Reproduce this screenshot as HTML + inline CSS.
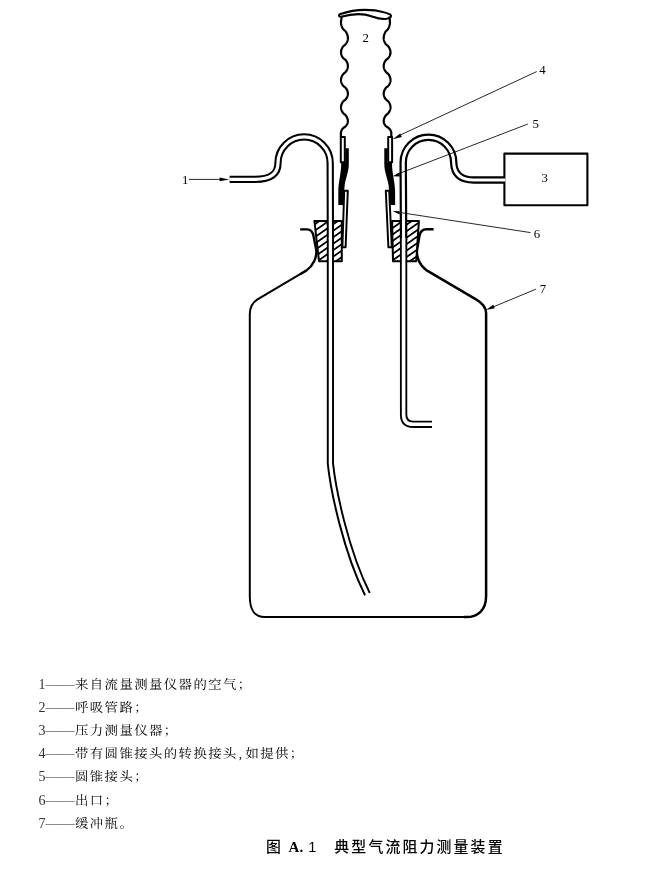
<!DOCTYPE html>
<html lang="zh-CN"><head><meta charset="utf-8"><title>图 A.1 典型气流阻力测量装置</title>
<style>
html,body{margin:0;padding:0;background:#fff;}
body{width:670px;height:869px;position:relative;overflow:hidden;}
svg,.lg,.cap{will-change:transform;-webkit-font-smoothing:antialiased;}
.lg{position:absolute;left:0;width:670px;height:24px;line-height:24px;white-space:nowrap;font-family:"Liberation Serif","Noto Serif CJK SC",serif;font-size:13.6px;font-weight:400;color:#000;}
.lg span{position:absolute;top:0}
.lg .n{left:38.4px;top:0.3px;color:#333;font-size:14px;font-weight:400}
.lg .d{left:45.5px;font-size:14.5px;top:-1.5px;color:#666;font-weight:400}
.lg .t{left:75.2px;font-size:12.5px;letter-spacing:1.33px;transform:scaleX(1.07);transform-origin:0 50%;top:0.4px}
.lg i{font-style:normal;letter-spacing:3px;margin-left:1px}
.cap{position:absolute;left:0;top:835.3px;width:670px;height:24px;line-height:24px;white-space:nowrap;font-family:"Liberation Sans","Noto Sans CJK SC",sans-serif;font-weight:500;font-size:14.9px;color:#000;}
.cap span{position:absolute;top:0}
.cap .a{left:265.9px}
.cap .b{left:288.6px;font-family:"Liberation Serif",serif;font-weight:700;font-size:15px}
.cap .c{left:308.2px;font-weight:400;font-size:14.5px}
.cap .e{left:334.3px;letter-spacing:2.15px}
</style></head><body>

<svg width="670" height="869" viewBox="0 0 670 869" style="position:absolute;left:0;top:0">
<defs>
<pattern id="hatch" patternUnits="userSpaceOnUse" width="5.3" height="5.3" patternTransform="rotate(-35) translate(0,1.2)">
<rect width="5.3" height="5.3" fill="#fff"/>
<line x1="0" y1="2.65" x2="5.3" y2="2.65" stroke="#000" stroke-width="1.8"/>
</pattern>
</defs>
<g fill="none" stroke="#000" stroke-linecap="butt" stroke-linejoin="round">
<!-- bottle -->
<path d="M306.5,270.4 L257.5,299.4 Q250,304 249.8,314 V596 C249.8,610 254,617 265,617 H468" stroke-width="2"/>
<path d="M300.2,229.3 H307 Q312.3,229.3 313.5,236 L316.2,250 C317,257 313.5,265.5 306.5,270.4 L300,274.2" stroke-width="2.35"/>
<path d="M464,617.1 H466 C478,617.1 486.1,610 486.1,596 V313 Q486,305 476,299.3 L426.7,270.4 C419.7,265.5 416.2,257 417,250 L419.4,236 Q420.6,229.3 426.5,229.3 H433.6" stroke-width="2.5"/>
<!-- stopper -->
<path d="M314.4,221 H341.8 V261.2 H319 Z" fill="url(#hatch)" stroke-width="2"/>
<path d="M392.1,221 H418.9 L416.2,261.2 H393 Z" fill="url(#hatch)" stroke-width="2"/>
<!-- box 3 -->
<rect x="504.4" y="153.6" width="83" height="51.6" stroke-width="2.1"/>
<!-- pipes -->
<path d="M229.6,179.3 H255 C270,179.3 278,174.5 278,163 A26.1,26.1 0 0 1 330.2,163 L330.4,240" stroke-width="7.3"/>
<path d="M229.4,179.3 H255 C270,179.3 278,174.5 278,163 A26.1,26.1 0 0 1 330.2,163 L330.4,240" stroke="#fff" stroke-width="3.2"/>
<path d="M330.4,239 V463.5 C333.2,490 345.8,551 367.4,594.2" stroke-width="7.2"/>
<path d="M330.4,238 V463.5 C333.2,490 345.8,551 367.8,595" stroke="#fff" stroke-width="3.3"/>
<path d="M403.6,240 L403.2,162.5 A25.25,25.25 0 0 1 453.7,162.5 C454,173.5 460,180 474,180 H504.4" stroke-width="7.5"/>
<path d="M403.6,240 L403.2,162.5 A25.25,25.25 0 0 1 453.7,162.5 C454,173.5 460,180 474,180 H505.4" stroke="#fff" stroke-width="3.1"/>
<path d="M432,424.3 H413 Q403.6,424.3 403.6,414.5 V239" stroke-width="7.3"/>
<path d="M432.4,424.3 H413 Q403.6,424.3 403.6,414.5 V238" stroke="#fff" stroke-width="3.6"/>
<!-- tube 2 -->
<path d="M341.60,16.50 L341.60,16.75 L341.59,17.00 L341.58,17.25 L341.57,17.50 L341.55,17.75 L341.53,18.00 L341.51,18.25 L341.48,18.50 L341.45,18.75 L341.41,19.00 L341.37,19.25 L341.30,19.50 L341.23,19.75 L341.19,20.00 L341.15,20.25 L341.12,20.50 L341.09,20.75 L341.07,21.00 L341.05,21.25 L341.03,21.50 L341.02,21.75 L341.01,22.00 L341.00,22.25 L341.00,22.50 L341.02,23.15 L341.09,23.81 L341.19,24.46 L341.34,25.12 L341.53,25.77 L341.76,26.43 L342.04,27.08 L342.36,27.73 L342.72,28.39 L343.15,29.04 L343.65,29.70 L344.45,30.35 L345.25,31.00 L345.75,31.66 L346.18,32.31 L346.54,32.97 L346.86,33.62 L347.14,34.28 L347.37,34.93 L347.56,35.58 L347.71,36.24 L347.81,36.89 L347.88,37.55 L347.90,38.20 L347.88,38.79 L347.81,39.38 L347.71,39.98 L347.56,40.57 L347.37,41.16 L347.14,41.75 L346.86,42.34 L346.54,42.93 L346.18,43.52 L345.75,44.12 L345.25,44.71 L344.45,45.30 L343.65,45.89 L343.15,46.48 L342.72,47.08 L342.36,47.67 L342.04,48.26 L341.76,48.85 L341.53,49.44 L341.34,50.03 L341.19,50.62 L341.09,51.22 L341.02,51.81 L341.00,52.40 L341.02,52.96 L341.09,53.52 L341.19,54.09 L341.34,54.65 L341.53,55.21 L341.76,55.77 L342.04,56.34 L342.36,56.90 L342.72,57.46 L343.15,58.03 L343.65,58.59 L344.45,59.15 L345.25,59.71 L345.75,60.28 L346.18,60.84 L346.54,61.40 L346.86,61.96 L347.14,62.53 L347.37,63.09 L347.56,63.65 L347.71,64.21 L347.81,64.78 L347.88,65.34 L347.90,65.90 L347.88,66.49 L347.81,67.08 L347.71,67.68 L347.56,68.27 L347.37,68.86 L347.14,69.45 L346.86,70.04 L346.54,70.63 L346.18,71.22 L345.75,71.82 L345.25,72.41 L344.45,73.00 L343.65,73.59 L343.15,74.18 L342.72,74.78 L342.36,75.37 L342.04,75.96 L341.76,76.55 L341.53,77.14 L341.34,77.73 L341.19,78.32 L341.09,78.92 L341.02,79.51 L341.00,80.10 L341.02,80.66 L341.09,81.22 L341.19,81.79 L341.34,82.35 L341.53,82.91 L341.76,83.47 L342.04,84.04 L342.36,84.60 L342.72,85.16 L343.15,85.72 L343.65,86.29 L344.45,86.85 L345.25,87.41 L345.75,87.97 L346.18,88.54 L346.54,89.10 L346.86,89.66 L347.14,90.22 L347.37,90.79 L347.56,91.35 L347.71,91.91 L347.81,92.47 L347.88,93.04 L347.90,93.60 L347.88,94.17 L347.81,94.74 L347.71,95.31 L347.56,95.88 L347.37,96.45 L347.14,97.02 L346.86,97.60 L346.54,98.17 L346.18,98.74 L345.75,99.31 L345.25,99.88 L344.45,100.45 L343.65,101.02 L343.15,101.59 L342.72,102.16 L342.36,102.73 L342.04,103.30 L341.76,103.88 L341.53,104.45 L341.34,105.02 L341.19,105.59 L341.09,106.16 L341.02,106.73 L341.00,107.30 L341.02,107.88 L341.09,108.46 L341.19,109.04 L341.34,109.62 L341.53,110.20 L341.76,110.78 L342.04,111.35 L342.36,111.93 L342.72,112.51 L343.15,113.09 L343.65,113.67 L344.45,114.25 L345.25,114.83 L345.75,115.41 L346.18,115.99 L346.54,116.57 L346.86,117.15 L347.14,117.72 L347.37,118.30 L347.56,118.88 L347.71,119.46 L347.81,120.04 L347.88,120.62 L347.90,121.20 L347.88,121.70 L347.81,122.20 L347.71,122.70 L347.56,123.20 L347.36,123.70 L347.13,124.20 L346.85,124.70 L346.52,125.20 L346.15,125.70 L345.72,126.20 L345.21,126.70 L344.40,127.20 L343.59,127.70 L343.08,128.20 L342.65,128.70 L342.28,129.20 L341.95,129.70 L341.67,130.20 L341.44,130.70 L341.24,131.20 L341.09,131.70 L340.99,132.20 L340.92,132.70 L340.90,133.20 L340.9,137" stroke-width="2.2"/>
<path d="M389.60,16.50 L389.60,16.75 L389.60,17.00 L389.61,17.25 L389.61,17.50 L389.62,17.75 L389.63,18.00 L389.65,18.25 L389.66,18.50 L389.67,18.75 L389.69,19.00 L389.72,19.25 L389.75,19.50 L389.78,19.75 L389.81,20.00 L389.83,20.25 L389.84,20.50 L389.85,20.75 L389.87,21.00 L389.88,21.25 L389.89,21.50 L389.89,21.75 L389.90,22.00 L389.90,22.25 L389.90,22.50 L389.88,23.15 L389.82,23.81 L389.73,24.46 L389.60,25.12 L389.42,25.77 L389.22,26.43 L388.97,27.08 L388.68,27.73 L388.35,28.39 L387.97,29.04 L387.52,29.70 L386.80,30.35 L386.08,31.00 L385.63,31.66 L385.25,32.31 L384.92,32.97 L384.63,33.62 L384.38,34.28 L384.18,34.93 L384.00,35.58 L383.87,36.24 L383.78,36.89 L383.72,37.55 L383.70,38.20 L383.72,38.79 L383.78,39.38 L383.89,39.98 L384.03,40.57 L384.22,41.16 L384.45,41.75 L384.72,42.34 L385.04,42.93 L385.40,43.52 L385.82,44.12 L386.32,44.71 L387.10,45.30 L387.88,45.89 L388.38,46.48 L388.80,47.08 L389.16,47.67 L389.48,48.26 L389.75,48.85 L389.98,49.44 L390.17,50.03 L390.31,50.62 L390.42,51.22 L390.48,51.81 L390.50,52.40 L390.48,52.96 L390.42,53.52 L390.31,54.09 L390.17,54.65 L389.98,55.21 L389.75,55.77 L389.48,56.34 L389.16,56.90 L388.80,57.46 L388.38,58.03 L387.88,58.59 L387.10,59.15 L386.32,59.71 L385.82,60.28 L385.40,60.84 L385.04,61.40 L384.72,61.96 L384.45,62.53 L384.22,63.09 L384.03,63.65 L383.89,64.21 L383.78,64.78 L383.72,65.34 L383.70,65.90 L383.72,66.49 L383.78,67.08 L383.89,67.68 L384.03,68.27 L384.22,68.86 L384.45,69.45 L384.72,70.04 L385.04,70.63 L385.40,71.22 L385.82,71.82 L386.32,72.41 L387.10,73.00 L387.88,73.59 L388.38,74.18 L388.80,74.78 L389.16,75.37 L389.48,75.96 L389.75,76.55 L389.98,77.14 L390.17,77.73 L390.31,78.32 L390.42,78.92 L390.48,79.51 L390.50,80.10 L390.48,80.66 L390.42,81.22 L390.31,81.79 L390.17,82.35 L389.98,82.91 L389.75,83.47 L389.48,84.04 L389.16,84.60 L388.80,85.16 L388.38,85.72 L387.88,86.29 L387.10,86.85 L386.32,87.41 L385.82,87.97 L385.40,88.54 L385.04,89.10 L384.72,89.66 L384.45,90.22 L384.22,90.79 L384.03,91.35 L383.89,91.91 L383.78,92.47 L383.72,93.04 L383.70,93.60 L383.72,94.17 L383.78,94.74 L383.89,95.31 L384.03,95.88 L384.22,96.45 L384.45,97.02 L384.72,97.60 L385.04,98.17 L385.40,98.74 L385.82,99.31 L386.32,99.88 L387.10,100.45 L387.88,101.02 L388.38,101.59 L388.80,102.16 L389.16,102.73 L389.48,103.30 L389.75,103.88 L389.98,104.45 L390.17,105.02 L390.31,105.59 L390.42,106.16 L390.48,106.73 L390.50,107.30 L390.48,107.88 L390.42,108.46 L390.31,109.04 L390.17,109.62 L389.98,110.20 L389.75,110.78 L389.48,111.35 L389.16,111.93 L388.80,112.51 L388.38,113.09 L387.88,113.67 L387.10,114.25 L386.32,114.83 L385.82,115.41 L385.40,115.99 L385.04,116.57 L384.72,117.15 L384.45,117.72 L384.22,118.30 L384.03,118.88 L383.89,119.46 L383.78,120.04 L383.72,120.62 L383.70,121.20 L383.72,121.70 L383.79,122.20 L383.91,122.70 L384.07,123.20 L384.28,123.70 L384.54,124.20 L384.84,124.70 L385.19,125.20 L385.60,125.70 L386.06,126.20 L386.62,126.70 L387.50,127.20 L388.38,127.70 L388.94,128.20 L389.40,128.70 L389.81,129.20 L390.16,129.70 L390.46,130.20 L390.72,130.70 L390.93,131.20 L391.09,131.70 L391.21,132.20 L391.28,132.70 L391.30,133.20 L391.3,137" stroke-width="2.2"/>
<path d="M340.6,17.2 Q338,15.6 339.6,14.2 C350,10.8 358,9.9 365,9.9 C373,9.9 382,11 389.6,14.2 Q391.8,15.4 390.4,17.3 Q388.5,18.8 385.5,19 Q380,19.3 372,16.4 Q359,11.6 341,16.8" stroke-width="2.1"/>
<!-- adapter rects -->
<rect x="340.8" y="137" width="4" height="25.2" fill="#fff" stroke-width="2"/>
<rect x="388.2" y="137" width="3.9" height="25.2" fill="#fff" stroke-width="2"/>
<!-- black cones -->
<path d="M345.4,148.2 H348.8 V164 C348.8,172 345.6,178 344.6,186 L344.2,191 V205 H338.3 V192 C338.3,182 341.2,174 341.2,163 H345.4 Z" fill="#000" stroke="none"/>
<path d="M387.6,148.2 H384.3 V164 C384.3,172 387.6,178 388.7,186 L389.1,191 V205 H395.1 V192 C395.1,182 392,174 392,163 H387.6 Z" fill="#000" stroke="none"/>
<!-- outlet tubes -->
<path d="M344.2,190.8 H347.8 L345.6,247.3 H342.4 Z" fill="#fff" stroke-width="1.95"/>
<path d="M389.2,190.8 H385.8 L388.4,247.3 H391.8 Z" fill="#fff" stroke-width="1.95"/>
<!-- leaders -->
<g stroke-width="0.85">
<line x1="189" y1="179.4" x2="222" y2="179.4"/>
<line x1="536.7" y1="71.6" x2="398" y2="136.1"/>
<line x1="527.9" y1="124" x2="396" y2="174.7"/>
<line x1="530.5" y1="232.6" x2="396" y2="211.9"/>
<line x1="535.9" y1="289.2" x2="491" y2="307.8"/>
</g>
</g>
<g fill="#000" stroke="none">
<path d="M229.2,179.4 L219.6,177.5 V181.3 Z"/>
<path d="M392.7,139.2 L400.2,133.6 L401.8,137.1 Z"/>
<path d="M485.9,309.9 L493.3,304.7 L494.8,308.3 Z"/>
<path d="M392.6,176.3 L399.6,172.6 L399.8,176.4 Z"/>
<path d="M392.5,211.1 L399.6,211.3 L399.6,214.4 Z"/>
</g>
<g font-family='"Liberation Serif","Noto Serif CJK SC",serif' font-size="12.8" fill="#000" text-anchor="middle">
<text x="185.3" y="183.6">1</text>
<text x="365.7" y="42.3">2</text>
<text x="544.8" y="182.4">3</text>
<text x="542.4" y="73.6">4</text>
<text x="535.8" y="128.2">5</text>
<text x="537" y="238">6</text>
<text x="543" y="293.2">7</text>
</g>
</svg>

<div class="lg" style="top:672.6px"><span class="n">1</span><span class="d">——</span><span class="t">来自流量测量仪器的空气；</span></div>
<div class="lg" style="top:695.8px"><span class="n">2</span><span class="d">——</span><span class="t">呼吸管路；</span></div>
<div class="lg" style="top:719.0px"><span class="n">3</span><span class="d">——</span><span class="t">压力测量仪器；</span></div>
<div class="lg" style="top:742.2px"><span class="n">4</span><span class="d">——</span><span class="t">带有圆锥接头的转换接头<i>,</i>如提供；</span></div>
<div class="lg" style="top:765.4px"><span class="n">5</span><span class="d">——</span><span class="t">圆锥接头；</span></div>
<div class="lg" style="top:788.6px"><span class="n">6</span><span class="d">——</span><span class="t">出口；</span></div>
<div class="lg" style="top:811.8px"><span class="n">7</span><span class="d">——</span><span class="t">缓冲瓶。</span></div>

<div class="cap"><span class="a">图</span><span class="b">A.</span><span class="c">1</span><span class="e">典型气流阻力测量装置</span></div>
</body></html>
